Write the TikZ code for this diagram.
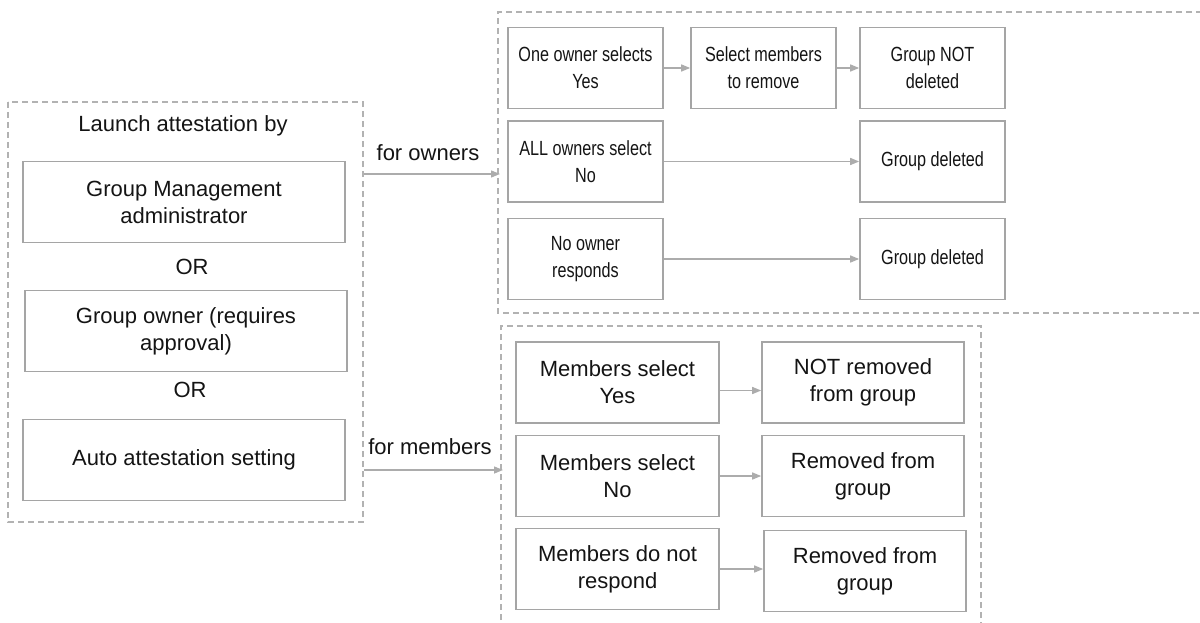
\documentclass[tikz,border=0pt]{standalone}
\usepackage{fontspec}
\setmainfont{Liberation Sans}
\newfontfamily\narrowfont[FakeStretch=0.79]{Liberation Sans}
\usetikzlibrary{arrows.meta}
\definecolor{boxgray}{RGB}{165,165,165}
\definecolor{dashgray}{RGB}{178,178,178}
\definecolor{arrowgray}{RGB}{172,172,172}
\definecolor{txt}{RGB}{20,20,20}
\begin{document}
\begin{tikzpicture}[x=1pt,y=-1pt,
  box/.style={draw=boxgray, line width=1.6pt, minimum height=81pt, inner sep=0pt,
    align=center, text=txt, font=\fontsize{22}{27}\selectfont},
  nbox/.style={box, font=\narrowfont\fontsize{20.5}{27}\selectfont},
  plain/.style={inner sep=0pt, text=txt, font=\fontsize{22}{27}\selectfont},
  container/.style={draw=dashgray, line width=1.3pt, dash pattern=on 6pt off 4pt},
  arr/.style={draw=arrowgray, line width=1.4pt, -{Triangle[length=9pt,width=7pt]}}
]
\useasboundingbox (0,0) rectangle (1200,623);

% containers
\draw[container] (8,102) rectangle (363,522);
\draw[container] (1202,12) -- (498,12) -- (498,313) -- (1202,313);
\draw[container] (501,630) -- (501,326) -- (981,326) -- (981,630);

% left column
\node[plain] (launch) at (183,126) {Launch attestation by};
\node[box, minimum width=322pt] (gma) at (184,202) {Group Management\\administrator};
\node[plain] (or1) at (192,267) {OR};
\node[box, minimum width=322pt] (gown) at (186,331) {Group owner (requires\\approval)};
\node[plain] (or2) at (190,390) {OR};
\node[box, minimum width=322pt] (auto) at (184,460) {Auto attestation setting};

% container arrows
\coordinate (lo) at (364,174);
\coordinate (ro) at (500,174);
\coordinate (lm) at (364,470);
\coordinate (rm) at (503,470);
\draw[arr] (lo) -- (ro);
\draw[arr] (lm) -- (rm);
\node[plain] (forown) at (428,153) {for owners};
\node[plain] (formem) at (430,447) {for members};

% owners
\node[nbox, minimum width=155pt] (o1) at (585.5,68) {One owner selects\\Yes};
\node[nbox, minimum width=145pt] (s1) at (763.5,68) {Select members\\to remove};
\node[nbox, minimum width=145pt] (c1) at (932.5,68) {Group NOT\\deleted};
\node[nbox, minimum width=155pt] (o2) at (585.5,161.5) {ALL owners select\\No};
\node[nbox, minimum width=145pt] (c2) at (932.5,161.5) {Group deleted};
\node[nbox, minimum width=155pt] (o3) at (585.5,259) {No owner\\responds};
\node[nbox, minimum width=145pt] (c3) at (932.5,259) {Group deleted};
\draw[arr] (o1.east) -- (s1.west);
\draw[arr] (s1.east) -- (c1.west);
\draw[arr] (o2.east) -- (c2.west);
\draw[arr] (o3.east) -- (c3.west);

% members
\node[box, minimum width=203pt] (m1) at (617.5,382.5) {Members select\\Yes};
\node[box, minimum width=202pt] (r1) at (863,382.5) {NOT removed\\from group};
\node[box, minimum width=203pt] (m2) at (617.5,476) {Members select\\No};
\node[box, minimum width=202pt] (r2) at (863,476) {Removed from\\group};
\node[box, minimum width=203pt] (m3) at (617.5,569) {Members do not\\respond};
\node[box, minimum width=202pt] (r3) at (865,571) {Removed from\\group};
\draw[arr] ([yshift=-8pt]m1.east) -- ([yshift=-8pt]r1.west);
\draw[arr] (m2.east) -- (r2.west);
\draw[arr] (m3.east) -- (m3.east -| r3.west);
\end{tikzpicture}
\end{document}
